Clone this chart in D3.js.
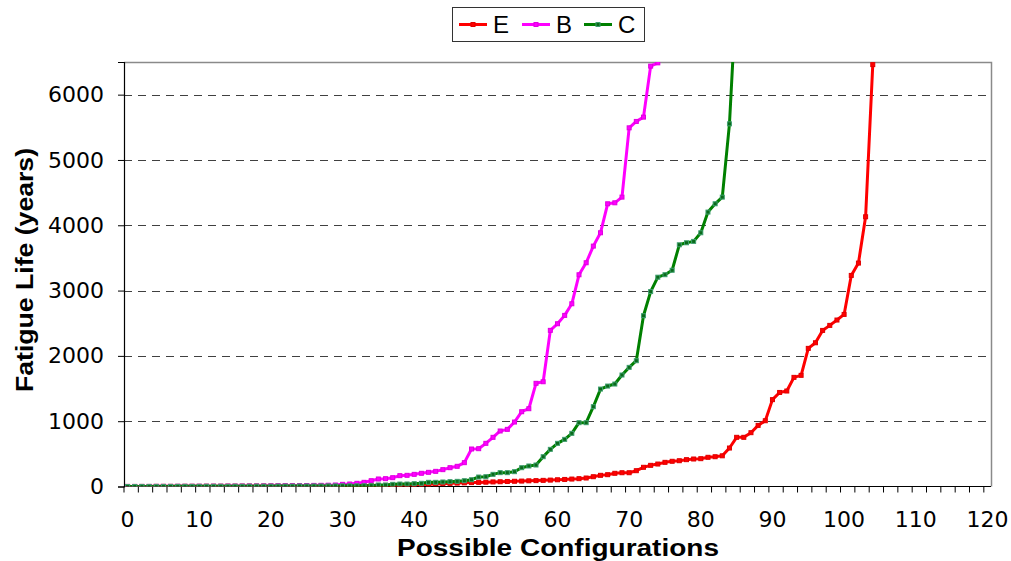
<!DOCTYPE html>
<html>
<head>
<meta charset="utf-8">
<script src="https://cdn.jsdelivr.net/npm/d3@7"></script>
<style>
  body { margin: 0; background: #fff; }
  svg { font-family: "Liberation Sans", Arial, sans-serif; }
</style>
</head>
<body>
<svg id="chart" width="1011" height="561"></svg>
<script>
// category positions 0..120
const categories = d3.range(121);
const xTickLabels = [0, 10, 20, 30, 40, 50, 60, 70, 80, 90, 100, 110, 120];
const yTicks = [0, 1000, 2000, 3000, 4000, 5000, 6000];

const seriesE = [
    1, 1, 1, 1, 2, 2, 2, 2, 3, 3, 3, 4, 4, 4, 5, 5, 5, 6, 6, 7,
    7, 8, 8, 9, 9, 10, 10, 11, 11, 12, 12, 13, 14, 14, 15, 16, 17, 17,
    18, 22, 27, 31, 35, 39, 43, 48, 52, 56, 60, 63, 66, 70, 73, 77, 80, 83, 87, 90,
    94, 98, 103, 108, 114, 120, 130, 150, 171,
    181, 202, 211, 211, 242, 294, 324, 344, 370, 386, 395, 411, 421, 426, 447, 456, 470,
    589, 753, 753, 824, 936, 1007, 1330, 1440, 1462, 1671, 1702, 2115, 2201, 2390, 2467,
    2549, 2635, 3232, 3421, 4130, 6460
];
const seriesB = [
    1, 1, 1, 1, 2, 2, 2, 3, 3, 3, 4, 4, 5, 5, 6, 6, 7, 8, 8, 9, 10, 11, 12, 13, 14, 15, 17, 18, 20,
    23, 33, 38, 49, 64, 89, 115, 120, 135, 166, 171, 186, 202, 217, 232, 258, 288, 309, 365, 574,
    579, 661, 753, 850, 875, 987, 1145, 1191, 1580,
    1604, 2391, 2492, 2620, 2798, 3242, 3426, 3681, 3885, 4329, 4344, 4431, 5492, 5590, 5656, 6437, 6487
];
const seriesC = [
    0, 0, 1, 1, 1, 1, 1, 2, 2, 2, 2, 3, 3, 3, 3, 4, 4, 4, 5, 5, 5, 6, 6, 6, 7, 7, 8, 8, 9, 9, 10, 10, 11, 12,
    13, 23, 23, 33, 38, 38, 43, 49, 64, 64, 69, 74, 79, 89, 104, 145, 150, 186, 212, 212, 227, 288, 314, 329,
    456, 569, 661, 722, 814, 977, 977, 1222, 1492, 1538, 1569, 1707, 1824, 1926, 2615, 2985, 3205, 3243,
    3311, 3701, 3732, 3753, 3885, 4202, 4329, 4431, 5553, 7640
];

const series = [
    { name: "E", values: seriesE, color: "#ff0000", markFill: "#ff0000", markStroke: "#e00000" },
    { name: "B", values: seriesB, color: "#ff00ff", markFill: "#ff00ff", markStroke: "#e000e0" },
    { name: "C", values: seriesC, color: "#008000", markFill: "#0a6a1a", markStroke: "#3f9f6f" }
];

const plotLeft = 124, plotRight = 991, plotTop = 62, plotBottom = 486.5;
const tickFont = "DejaVu Sans, Liberation Sans, sans-serif";

const svg = d3.select("#chart");

const x = d3.scaleBand().domain(categories).range([plotLeft, plotRight]);
const cx = i => x(i) + x.bandwidth() / 2;
const y = d3.scaleLinear().domain([0, 6500]).range([plotBottom, plotTop]);

svg.append("defs").append("clipPath").attr("id", "plotClip")
    .append("rect")
    .attr("x", plotLeft).attr("y", plotTop)
    .attr("width", plotRight - plotLeft).attr("height", plotBottom - plotTop);

// gridlines
svg.append("g")
    .selectAll("line")
    .data(yTicks.filter(d => d > 0))
    .enter()
    .append("line")
    .attr("x1", plotLeft).attr("x2", plotRight)
    .attr("y1", d => Math.round(y(d)) + 0.5).attr("y2", d => Math.round(y(d)) + 0.5)
    .attr("stroke", "#404040")
    .attr("stroke-width", 1)
    .attr("stroke-dasharray", "8,6");

// frame top / right
svg.append("path")
    .attr("d", `M${plotLeft},${plotTop + 0.5}H${plotRight + 0.5}V${plotBottom}`)
    .attr("fill", "none")
    .attr("stroke", "#8a8a8a")
    .attr("stroke-width", 1.5);

// y axis
const yAxis = d3.axisLeft(y).tickValues(yTicks).tickFormat(d3.format("d")).tickSize(6).tickPadding(14);
const gy = svg.append("g").attr("transform", `translate(${plotLeft},0)`).call(yAxis);
gy.select(".domain").attr("stroke", "#000").attr("stroke-width", 1.2);
gy.selectAll(".tick line").attr("stroke", "#000");
gy.selectAll("text")
    .attr("font-size", "22px")
    .attr("font-family", tickFont)
    .attr("fill", "#000");

// x axis: ticks every 2 categories at boundaries
const gx = svg.append("g");
gx.append("line")
    .attr("x1", plotLeft).attr("x2", plotRight)
    .attr("y1", plotBottom).attr("y2", plotBottom)
    .attr("stroke", "#000").attr("stroke-width", 1.2);
gx.selectAll(".xt")
    .data(categories.filter(d => d % 2 === 0))
    .enter()
    .append("line")
    .attr("class", "xt")
    .attr("x1", d => x(d)).attr("x2", d => x(d))
    .attr("y1", plotBottom).attr("y2", plotBottom + 6)
    .attr("stroke", "#000");
gx.selectAll(".xl")
    .data(xTickLabels)
    .enter()
    .append("text")
    .attr("class", "xl")
    .attr("x", d => cx(d))
    .attr("y", 527)
    .attr("text-anchor", "middle")
    .attr("font-size", "22px")
    .attr("font-family", tickFont)
    .text(d => d);

// series
const line = d3.line()
    .x((d, i) => cx(i))
    .y(d => y(d));

const plot = svg.append("g").attr("clip-path", "url(#plotClip)");

series.forEach(s => {
    plot.append("path")
        .datum(s.values)
        .attr("fill", "none")
        .attr("stroke", s.color)
        .attr("stroke-width", 3)
        .attr("stroke-linejoin", "round")
        .attr("d", line);
    plot.selectAll(null)
        .data(s.values)
        .enter()
        .append("rect")
        .attr("x", (d, i) => cx(i) - 2)
        .attr("y", d => y(d) - 2)
        .attr("width", 4)
        .attr("height", 4)
        .attr("fill", s.markFill)
        .attr("stroke", s.markStroke)
        .attr("stroke-width", 1);
});

// axis titles
svg.append("text")
    .attr("x", 558)
    .attr("y", 556)
    .attr("text-anchor", "middle")
    .attr("font-size", "23px")
    .attr("font-weight", "bold")
    .attr("textLength", 322)
    .attr("lengthAdjust", "spacingAndGlyphs")
    .text("Possible Configurations");

svg.append("text")
    .attr("transform", "translate(33,270)rotate(-90)")
    .attr("text-anchor", "middle")
    .attr("font-size", "23px")
    .attr("font-weight", "bold")
    .attr("textLength", 244)
    .attr("lengthAdjust", "spacingAndGlyphs")
    .text("Fatigue Life (years)");

// legend
const legend = svg.append("g");
legend.append("rect")
    .attr("x", 452.5).attr("y", 7.5)
    .attr("width", 192).attr("height", 34)
    .attr("fill", "#fff")
    .attr("stroke", "#333")
    .attr("stroke-width", 1);

const legendX = [459, 522, 584];
series.forEach((s, k) => {
    const lx = legendX[k];
    legend.append("line")
        .attr("x1", lx).attr("x2", lx + 28)
        .attr("y1", 24.5).attr("y2", 24.5)
        .attr("stroke", s.color)
        .attr("stroke-width", 3);
    legend.append("rect")
        .attr("x", lx + 12).attr("y", 22.5)
        .attr("width", 4).attr("height", 4)
        .attr("fill", s.markFill)
        .attr("stroke", s.markStroke);
    legend.append("text")
        .attr("x", lx + 34)
        .attr("y", 33)
        .attr("font-size", "24px")
        .text(s.name);
});
</script>
</body>
</html>
